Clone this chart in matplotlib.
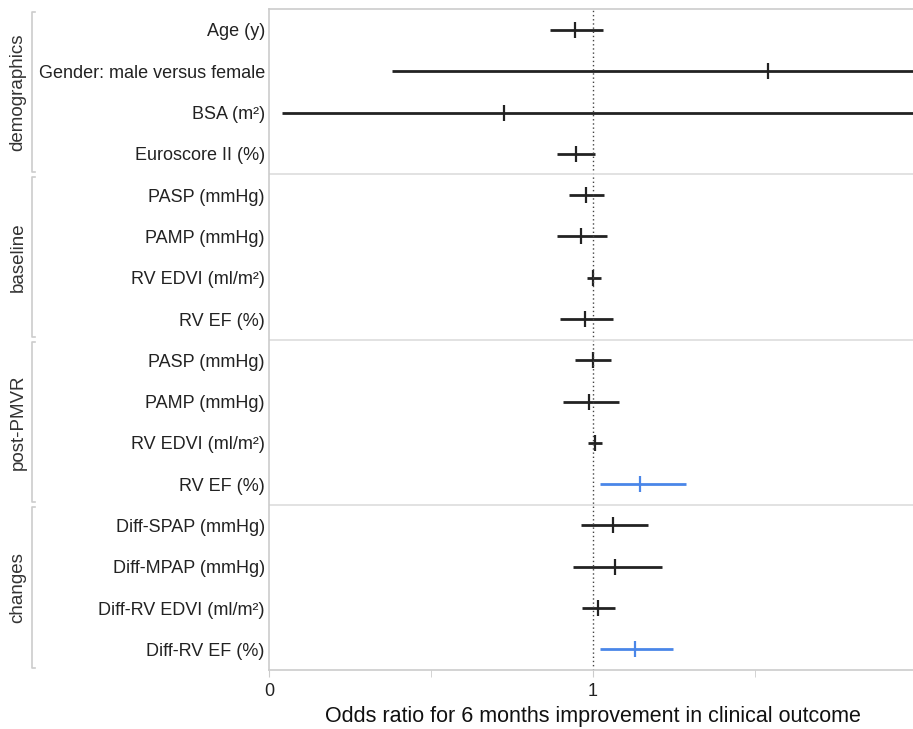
import matplotlib.pyplot as plt
import matplotlib.transforms as mtransforms
import numpy as np

plt.rcParams['font.family'] = ['Liberation Sans', 'DejaVu Sans']

labels = ['Age (y)', 'Gender: male versus female', 'BSA (m²)', 'Euroscore II (%)',
          'PASP (mmHg)', 'PAMP (mmHg)', 'RV EDVI (ml/m²)', 'RV EF (%)',
          'PASP (mmHg)', 'PAMP (mmHg)', 'RV EDVI (ml/m²)', 'RV EF (%)',
          'Diff-SPAP (mmHg)', 'Diff-MPAP (mmHg)', 'Diff-RV EDVI (ml/m²)', 'Diff-RV EF (%)']
odds = [0.943, 1.540, 0.724, 0.947,
        0.978, 0.962, 1.001, 0.975,
        0.999, 0.989, 1.006, 1.146,
        1.062, 1.068, 1.016, 1.131]
ci_low = [0.867, 0.379, 0.040, 0.888,
          0.927, 0.888, 0.982, 0.898,
          0.944, 0.906, 0.984, 1.021,
          0.963, 0.938, 0.967, 1.021]
ci_high = [1.032, 3.0, 3.0, 1.007,
           1.034, 1.042, 1.024, 1.061,
           1.056, 1.079, 1.029, 1.286,
           1.169, 1.214, 1.069, 1.248]
significant = [False] * 11 + [True] + [False] * 3 + [True]
groups = ['demographics', 'baseline', 'post-PMVR', 'changes']
group_size = 4

W, H = 913, 729
fig = plt.figure(figsize=(W / 100, H / 100), dpi=100)
ax = fig.add_axes([269 / W, (H - 670) / H, (917 - 269) / W, (670 - 9.3) / H])

y = np.arange(len(labels))
for i in y:
    col = '#4a86e8' if significant[i] else '#222222'
    ax.plot([ci_low[i], ci_high[i]], [i, i], color=col, lw=2, solid_capstyle='butt')
    ax.plot(odds[i], i, marker='|', color=col, ms=12, mew=1.6)

ax.axvline(1, color='#444444', ls=(0, (1, 2)), lw=1)
for k in range(1, len(groups)):
    ax.axhline(k * group_size - 0.5, color='#dddddd', lw=1.2)

ax.set_xlim(0, 2)
ax.set_ylim(len(labels) - 0.5, -0.5)
ax.set_xticks([0, 1, 2])
ax.set_xticks([0.5, 1.5], minor=True)
ax.set_yticks(y)
ax.set_yticklabels(labels, fontsize=13, color='#222222')
ax.tick_params(axis='y', length=0, pad=3)
ax.tick_params(axis='x', which='both', length=5, color='#cccccc', labelsize=13,
               labelcolor='#222222', pad=4)
for side in ['top', 'left', 'bottom']:
    ax.spines[side].set_color('#cccccc')
    ax.spines[side].set_linewidth(1.2)
ax.spines['right'].set_visible(False)
ax.set_xlabel('Odds ratio for 6 months improvement in clinical outcome',
              fontsize=15.5, color='#111111', labelpad=5)

# group brackets on the left
trans = mtransforms.blended_transform_factory(fig.transFigure, ax.transData)
bx = 32 / W
stub = 3 / W
for k, name in enumerate(groups):
    y0 = k * group_size - 0.44
    y1 = (k + 1) * group_size - 0.56
    ax.plot([bx + stub, bx, bx, bx + stub], [y0, y0, y1, y1], color='#cccccc',
            lw=1.2, transform=trans, clip_on=False)
    fig.text(18 / W, 0, name, rotation=90, ha='center', va='center', fontsize=13.5,
             color='#333333', transform=trans).set_y(k * group_size + 1.5)

fig.savefig('out.png', dpi=100)
